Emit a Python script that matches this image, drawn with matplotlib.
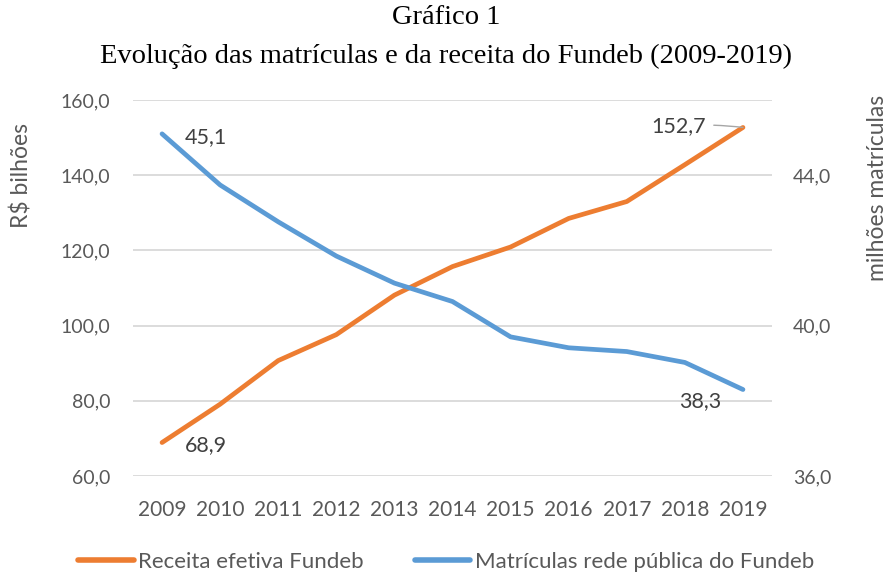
import matplotlib
matplotlib.use("Agg")
import matplotlib.pyplot as plt
from matplotlib.lines import Line2D

years = ["2009", "2010", "2011", "2012", "2013", "2014", "2015", "2016", "2017", "2018", "2019"]
receita = [68.9, 79.1, 90.7, 97.6, 108.1, 115.7, 120.9, 128.5, 133.0, 142.8, 152.7]
matriculas = [45.1, 43.74, 42.76, 41.85, 41.13, 40.64, 39.7, 39.41, 39.31, 39.02, 38.3]
left_ticks = [60, 80, 100, 120, 140, 160]
right_ticks = [36, 40, 44]

ORANGE = "#ED7D31"
BLUE = "#5B9BD5"
TXT = "#595959"
GRID = "#D9D9D9"
SANS = "Lato"

fig = plt.figure(figsize=(8.92, 5.73), dpi=100)
ax = fig.add_axes([133/892, 1-476/573, (772-133)/892, (476-100)/573])
ax2 = ax.twinx()

x = list(range(len(years)))
ax.plot(x, receita, color=ORANGE, lw=3.4, solid_capstyle="round", zorder=3)
ax2.plot(x, matriculas, color=BLUE, lw=3.4, solid_capstyle="round", zorder=3)

ax.set_xlim(-0.5, len(years) - 0.5)
ax.set_ylim(60, 160)
ax2.set_ylim(36, 46)
ax.set_yticks(left_ticks)
ax.set_yticklabels([f"{v:.1f}".replace(".", ",") for v in left_ticks])
ax2.set_yticks(right_ticks)
ax2.set_yticklabels([f"{v:.1f}".replace(".", ",") for v in right_ticks])
ax.set_xticks(x)
ax.set_xticklabels(years)

for a in (ax, ax2):
    for s in a.spines.values():
        s.set_visible(False)
    a.tick_params(length=0, labelsize=14, labelcolor=TXT)
    for lab in a.get_xticklabels() + a.get_yticklabels():
        lab.set_fontfamily(SANS)
ax.tick_params(axis="x", labelsize=15, pad=17)
ax.tick_params(axis="y", pad=16.5)
ax2.tick_params(axis="y", pad=15)
ax.grid(axis="y", color=GRID, lw=1.3)
ax.set_axisbelow(True)
ax2.set_zorder(ax.get_zorder() + 1)
ax2.patch.set_visible(False)

# Data labels
lab_kw = dict(fontsize=15.5, color="#404040", family=SANS)
ax2.annotate("45,1", (0, matriculas[0]), xytext=(16.5, -2), textcoords="offset points",
             ha="left", va="center", **lab_kw)
ax.annotate("68,9", (0, receita[0]), xytext=(16.5, -1.5), textcoords="offset points",
            ha="left", va="center", **lab_kw)
ax.annotate("152,7", (10, receita[-1]), xytext=(-27, 1), textcoords="offset points",
            ha="right", va="center",
            arrowprops=dict(arrowstyle="-", color="#A6A6A6", lw=1,
                            connectionstyle="arc3,rad=-0.05", shrinkA=4, shrinkB=0),
            **lab_kw)
ax2.annotate("38,3", (10, matriculas[-1]), xytext=(-31, -8), textcoords="offset points",
             ha="center", va="center", **lab_kw)

# Titles
fig.text(0.5, 1-18/573, "Gráfico 1", ha="center", va="center",
         fontsize=20.5, family="Liberation Serif", color="black")
fig.text(0.5, 1-56/573, "Evolução das matrículas e da receita do Fundeb (2009-2019)",
         ha="center", va="center", fontsize=20.5, family="Liberation Serif", color="black")

# Axis titles
fig.text(22/892, 1-175/573, "R$ bilhões", rotation=90, ha="center", va="center",
         fontsize=16.5, color=TXT, family=SANS)
fig.text(878/892, 1-188/573, "milhões matrículas", rotation=90, ha="center", va="center",
         fontsize=16.5, color=TXT, family=SANS)

# Legend
handles = [Line2D([0], [0], color=ORANGE, lw=4, solid_capstyle="round"),
           Line2D([0], [0], color=BLUE, lw=4, solid_capstyle="round")]
leg = fig.legend(handles, ["Receita efetiva Fundeb", "Matrículas rede pública do Fundeb"],
                 loc="center", bbox_to_anchor=(0.5, 1-562/573), ncol=2, frameon=False,
                 handlelength=2.5, handletextpad=0.2, columnspacing=2.3,
                 prop=dict(family=SANS, size=16))
for t in leg.get_texts():
    t.set_color(TXT)

fig.savefig("out.png", dpi=100)
